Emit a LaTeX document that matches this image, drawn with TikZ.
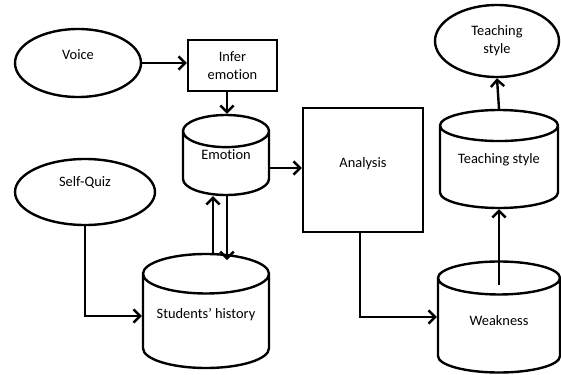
\documentclass[tikz,border=0pt]{standalone}
\usepackage{fontspec}
\setmainfont{Carlito}[Ligatures=NoCommon]
\usetikzlibrary{shapes.geometric, arrows.meta}

\begin{document}
\begin{tikzpicture}[x=0.75pt, y=-0.75pt, line width=1.8pt,
  font=\fontsize{10.8}{13.5}\selectfont,
  >={Straight Barb[length=5pt, width=10pt]},
  oval/.style={draw, ellipse, inner sep=0pt, align=center},
  box/.style={draw, rectangle, inner sep=0pt, align=center},
  store/.style={draw, cylinder, shape border rotate=90, inner sep=0pt,
                anchor=shape center, align=center}]
  \useasboundingbox (0,0) rectangle (561,375);
  % inputs
  \node[oval, minimum width=94.5pt, minimum height=51pt,
        label={[yshift=6pt]center:Voice}] (voice) at (78,63) {};
  \node[oval, minimum width=105pt, minimum height=49.5pt,
        label={[yshift=7pt]center:Self-Quiz}] (quiz) at (85,192) {};
  % infer emotion
  \node[box, minimum width=66.75pt, minimum height=38.25pt] (infer) at (232.5,65.5) {Infer\\emotion};
  % stores (text lifted to the middle of the drum)
  \node[store, aspect=0.65, minimum width=64.5pt, minimum height=60pt,
        label={[yshift=6.75pt]center:Emotion}] (emo) at (226,155) {\phantom{Emotion}};
  \node[store, aspect=0.4, minimum width=94.5pt, minimum height=85.5pt,
        label={[yshift=5.25pt]center:Students’ history}] (hist) at (206,311) {\phantom{Students’ history}};
  \node[store, aspect=0.38, minimum width=88.5pt, minimum height=73.5pt,
        label={[yshift=6pt]center:Teaching style}] (tsty) at (499,159) {\phantom{Teaching style}};
  \node[store, aspect=0.56, minimum width=91.5pt, minimum height=83.25pt,
        label={[yshift=3.75pt]center:Weakness}] (weak) at (499,317) {\phantom{Weakness}};
  % analysis
  \node[box, minimum width=90pt, minimum height=93pt,
        label={[yshift=5pt]center:Analysis}] (ana) at (363,170) {};
  % output
  \node[oval, minimum width=93pt, minimum height=54pt] (out) at (497,41) {Teaching\\style};
  % arrows
  \draw[->] (voice) -- (infer.west |- voice);
  \draw[->] (infer.south -| 227,0) -- (emo.north -| 227,0);
  \draw[->] (emo.east |- 0,168) -- (ana.west |- 0,168);
  \draw[->] (quiz.south) |- (hist.west |- 0,316);
  \draw[->] (213,253) -- (emo.south -| 213,0);
  \draw[->] (emo.south -| 227,0) -- (227,260);
  \draw[->] (ana.south -| 360,0) |- (weak.west |- 0,317);
  \draw[->] (499,285) -- (tsty.south);
  \draw[->] (tsty.north) -- (out.south);
\end{tikzpicture}
\end{document}
